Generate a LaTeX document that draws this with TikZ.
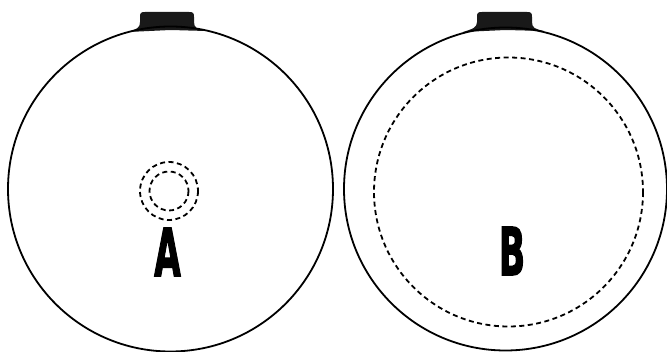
\documentclass[tikz,border=0pt]{standalone}
\usepackage{fontspec}
\setmainfont{Liberation Sans}
\newfontfamily\heavyfont[FakeBold=2.5]{DejaVu Sans Bold}
\begin{document}
\begin{tikzpicture}[x=1pt,y=-1pt,
  rim/.style={draw=black, line width=1.8pt},
  ring/.style={draw=black, line width=1.8pt, dash pattern=on 5pt off 3.5pt},
  tab/.style={fill=black!90},
  letter/.style={anchor=base, inner sep=0pt, font=\fontsize{66}{66}\heavyfont, xscale=0.52}]
  \useasboundingbox (0,0) rectangle (667,352);
  % left lid
  \coordinate (ca) at (170.5,189);
  \fill[tab] (128,32) .. controls (137,29) and (140,28) .. (140,22) -- (140,17)
    .. controls (140,13) and (141,12) .. (145,12) -- (189,12)
    .. controls (193,12) and (194,13) .. (194,17) -- (194,22)
    .. controls (194,28) and (197,29) .. (206,31) -- (170.5,30) -- cycle;
  \draw[rim] (ca) circle (162.5);
  \draw[ring] (169,191) circle (29);
  \draw[ring] (169,191) circle (19.5);
  \node[letter] (la) at (167.5,276) {A};
  % right lid
  \coordinate (cb) at (505.5,189);
  \fill[tab] (463,32) .. controls (472,29) and (477,28) .. (477,22) -- (477,17)
    .. controls (477,13) and (478,12) .. (482,12) -- (527,12)
    .. controls (531,12) and (532,13) .. (532,17) -- (532,22)
    .. controls (532,28) and (535,29) .. (544,31) -- (505.5,30) -- cycle;
  \draw[rim] (cb) circle (161.5);
  \draw[ring] (508.5,192) circle (134.5);
  \node[letter] (lb) at (512,275) {B};
\end{tikzpicture}
\end{document}
